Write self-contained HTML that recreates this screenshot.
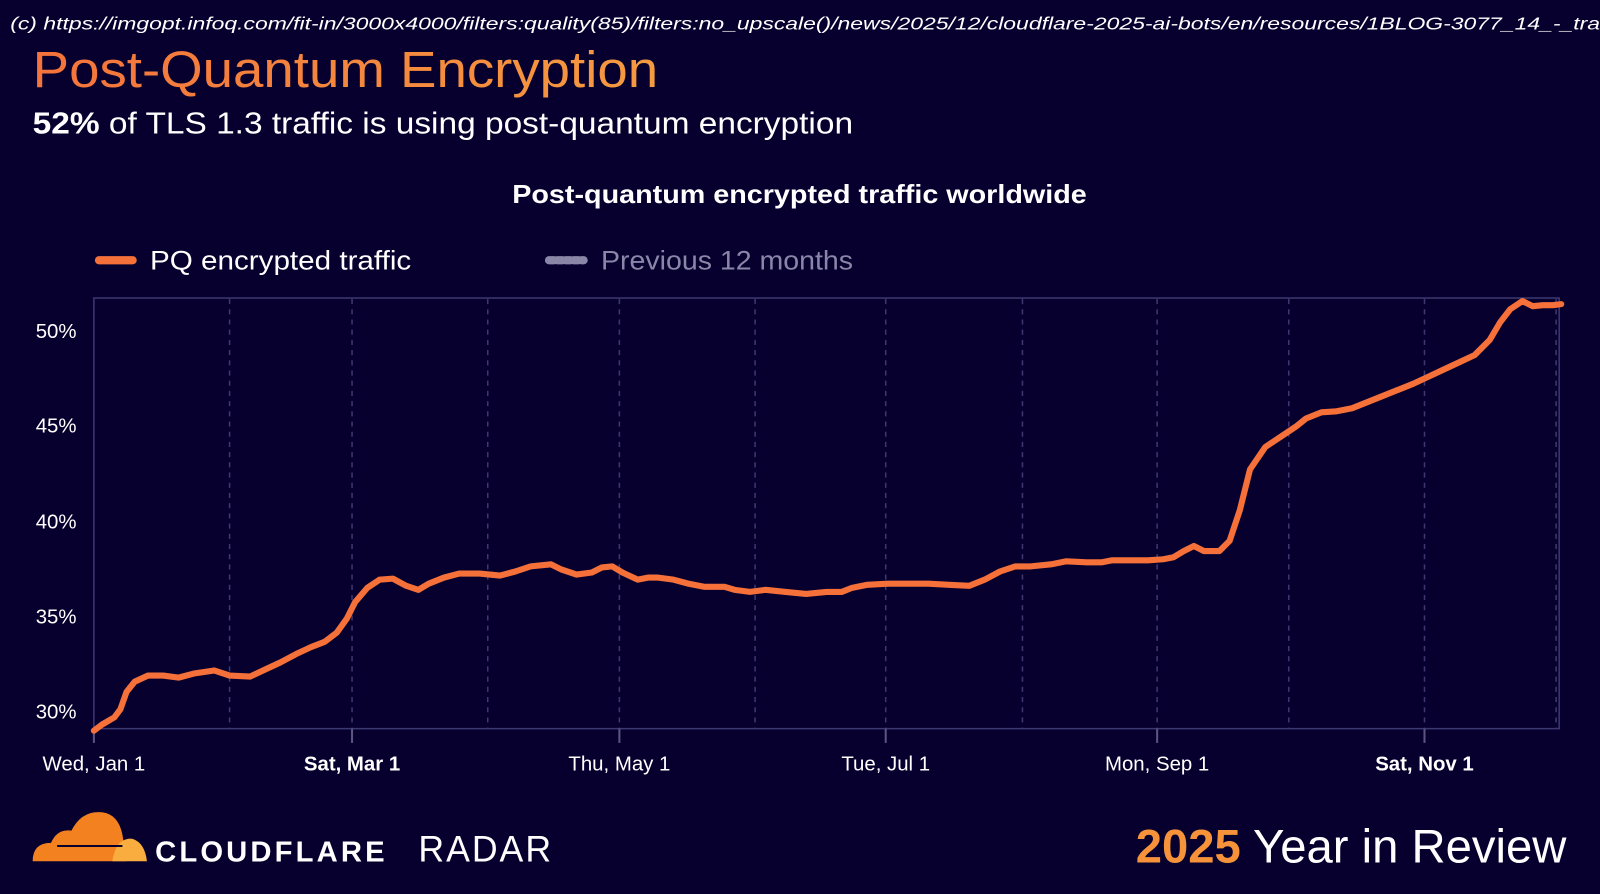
<!DOCTYPE html>
<html><head><meta charset="utf-8"><style>
html,body{margin:0;padding:0;background:#07002e;width:1600px;height:894px;overflow:hidden}
svg{display:block}
text{font-family:"Liberation Sans","DejaVu Sans",sans-serif}
</style></head><body>
<svg width="1600" height="894" viewBox="0 0 1568 876" xmlns="http://www.w3.org/2000/svg">
<defs><linearGradient id="tg" x1="0" x2="1"><stop offset="0" stop-color="#f4733c"/><stop offset="1" stop-color="#f59a40"/></linearGradient></defs>
<rect width="1568" height="876" fill="#07002e"/>
<text x="10" y="29" font-size="17" font-style="italic" fill="#ffffff" textLength="1558" lengthAdjust="spacingAndGlyphs">(c) https://imgopt.infoq.com/fit-in/3000x4000/filters:quality(85)/filters:no_upscale()/news/2025/12/cloudflare-2025-ai-bots/en/resources/1BLOG-3077_14_-_tra</text>
<text x="32" y="85" font-size="50" fill="url(#tg)" textLength="613" lengthAdjust="spacingAndGlyphs">Post-Quantum Encryption</text>
<text x="32" y="131" font-size="30" fill="#ffffff" textLength="804" lengthAdjust="spacingAndGlyphs"><tspan font-weight="bold">52%</tspan> of TLS 1.3 traffic is using post-quantum encryption</text>
<text x="502" y="199" font-size="25" font-weight="bold" fill="#ffffff" textLength="563" lengthAdjust="spacingAndGlyphs">Post-quantum encrypted traffic worldwide</text>
<line x1="97" y1="255" x2="130" y2="255" stroke="#f6703a" stroke-width="8" stroke-linecap="round"/>
<text x="147" y="264" font-size="26" fill="#ffffff" textLength="256" lengthAdjust="spacingAndGlyphs">PQ encrypted traffic</text>
<line x1="538" y1="255" x2="572" y2="255" stroke="#8a86a8" stroke-width="8" stroke-linecap="round" stroke-dasharray="5 3"/>
<text x="589" y="264" font-size="26" fill="#8a86a8" textLength="247" lengthAdjust="spacingAndGlyphs">Previous 12 months</text>
<g stroke="#3c3870" stroke-width="1.5" stroke-dasharray="5 5">
<line x1="225" y1="293" x2="225" y2="714"/><line x1="345" y1="293" x2="345" y2="714"/><line x1="478" y1="293" x2="478" y2="714"/><line x1="607" y1="293" x2="607" y2="714"/><line x1="740" y1="293" x2="740" y2="714"/><line x1="868" y1="293" x2="868" y2="714"/><line x1="1002" y1="293" x2="1002" y2="714"/><line x1="1134" y1="293" x2="1134" y2="714"/><line x1="1263" y1="293" x2="1263" y2="714"/><line x1="1396" y1="293" x2="1396" y2="714"/><line x1="1525" y1="293" x2="1525" y2="714"/>
</g>
<rect x="92" y="292" width="1436" height="422" fill="none" stroke="#3c3870" stroke-width="1.5"/>
<g stroke="#5a5680" stroke-width="2"><line x1="92" y1="714" x2="92" y2="728"/><line x1="345" y1="714" x2="345" y2="728"/><line x1="607" y1="714" x2="607" y2="728"/><line x1="868" y1="714" x2="868" y2="728"/><line x1="1134" y1="714" x2="1134" y2="728"/><line x1="1396" y1="714" x2="1396" y2="728"/></g>
<g font-size="20" fill="#ffffff" text-anchor="end"><text x="75" y="331">50%</text><text x="75" y="424">45%</text><text x="75" y="518">40%</text><text x="75" y="611">35%</text><text x="75" y="704">30%</text></g>
<g font-size="20" fill="#ffffff" text-anchor="middle"><text x="92" y="755">Wed, Jan 1</text><text x="345" y="755" font-weight="bold">Sat, Mar 1</text><text x="607" y="755">Thu, May 1</text><text x="868" y="755">Tue, Jul 1</text><text x="1134" y="755">Mon, Sep 1</text><text x="1396" y="755" font-weight="bold">Sat, Nov 1</text></g>
<polyline fill="none" stroke="#f6703a" stroke-width="6" stroke-linejoin="round" stroke-linecap="round" points="92,716 100,710 112,703 118,695 124,678 132,668 145,662 160,662 175,664 190,660 210,657 225,662 245,663 260,656 275,649 290,641 305,634 318,629 330,620 340,606 348,590 360,576 372,568 385,567 398,574 410,578 420,572 435,566 450,562 470,562 490,564 505,560 520,555 540,553 550,558 565,563 580,561 590,556 600,555 610,561 625,568 635,566 645,566 660,568 675,572 690,575 710,575 720,578 735,580 750,578 770,580 790,582 810,580 825,580 835,576 850,573 870,572 890,572 910,572 930,573 950,574 965,568 980,560 995,555 1010,555 1030,553 1045,550 1065,551 1080,551 1090,549 1110,549 1125,549 1140,548 1150,546 1160,540 1170,535 1180,540 1195,540 1205,530 1215,500 1225,460 1240,438 1255,428 1270,418 1280,410 1295,404 1310,403 1325,400 1340,394 1355,388 1370,382 1385,376 1400,369 1415,362 1430,355 1445,348 1460,333 1470,316 1480,303 1492,295 1502,300 1512,299 1522,299 1530,298"/>
<g>
<path d="M32,844 Q32,826 50,826 Q56,812 70,814 Q80,794 100,796 Q116,798 120,818 L124,844 Z" fill="#f48120"/>
<path d="M110,844 Q114,820 130,822 Q142,826 144,844 Z" fill="#faad3f"/>
<line x1="56" y1="829" x2="120" y2="829" stroke="#07002e" stroke-width="2"/>
<text x="152" y="844" font-size="28" font-weight="bold" fill="#ffffff" letter-spacing="3" textLength="228" lengthAdjust="spacingAndGlyphs">CLOUDFLARE</text>
<text x="410" y="844" font-size="36" fill="#ffffff" letter-spacing="2" textLength="132" lengthAdjust="spacingAndGlyphs">RADAR</text>
</g>
<text x="1113" y="845" font-size="46" fill="#ffffff" textLength="422" lengthAdjust="spacingAndGlyphs"><tspan fill="#f6923a" font-weight="bold">2025</tspan> Year in Review</text>
</svg>
</body></html>
